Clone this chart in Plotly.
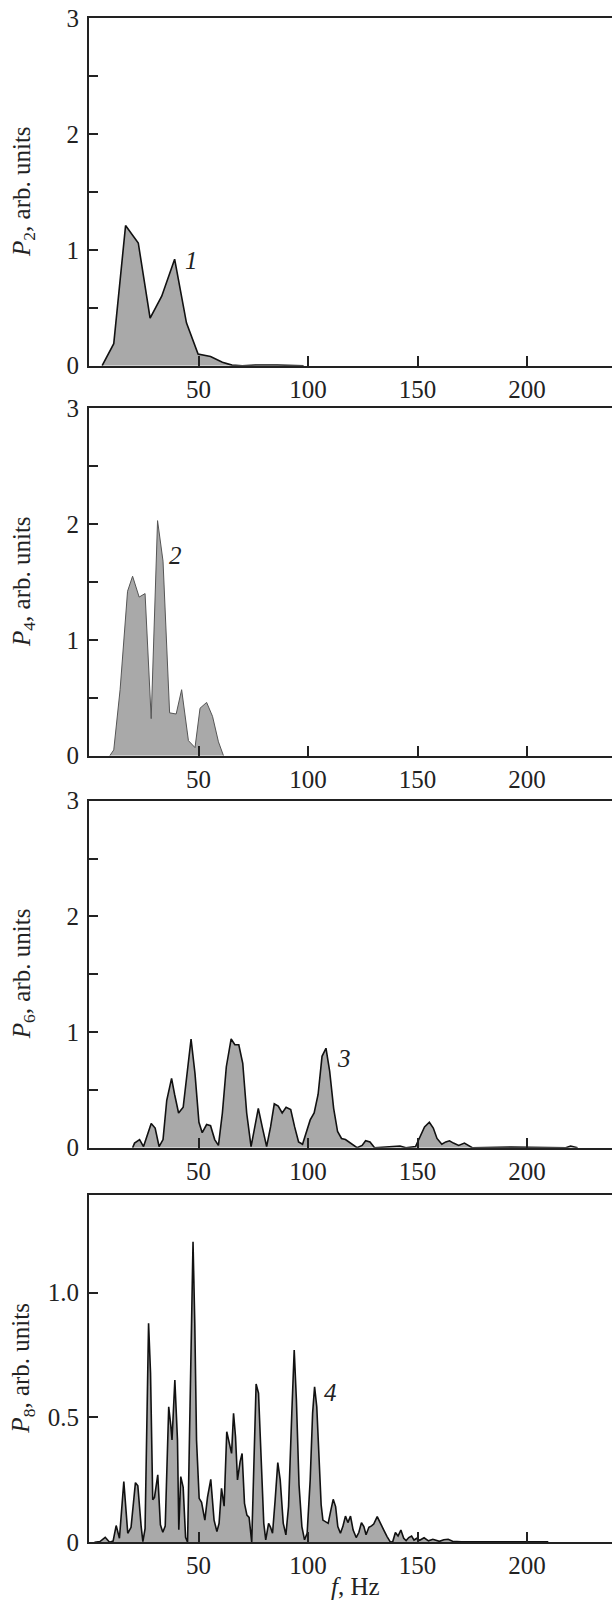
import plotly.graph_objects as go

# ---------------- data ----------------
f1 = [6.0, 11.3, 16.7, 22.5, 27.9, 33.2, 39.1, 44.5, 49.8, 55.5, 60.9, 65.3, 70.0, 76.0, 86.0, 92.0, 98.0]
p1 = [0, 0.19, 1.21, 1.06, 0.41, 0.60, 0.92, 0.37, 0.10, 0.08, 0.03, 0.005, 0, 0.006, 0.006, 0, 0]

f2 = [9.5, 11.3, 14.2, 17.6, 19.9, 22.9, 25.6, 28.4, 31.3, 33.8, 36.8, 39.8, 42.3, 45.4, 48.4,
      50.7, 53.7, 56.4, 59.1, 61.4]
p2 = [0, 0.05, 0.57, 1.42, 1.55, 1.37, 1.40, 0.32, 2.03, 1.68, 0.37, 0.36, 0.57, 0.13, 0.07,
      0.41, 0.46, 0.34, 0.12, 0]

f3 = [19.9, 20.8, 23.1, 24.9, 28.4, 30.2, 32.0, 33.8, 35.5, 37.7, 39.1, 40.9, 43.0, 44.8, 46.6,
      48.4, 50.2, 51.7, 53.7, 55.5, 57.4, 59.1, 60.9, 62.7, 64.9, 66.6, 68.4, 70.2, 72.0, 74.0,
      75.6, 77.3, 79.1, 81.1, 82.9, 84.6, 86.4, 88.2, 90.0, 92.1, 93.9, 95.7, 97.5, 99.3, 101.0,
      102.8, 104.6, 106.4, 108.2, 109.9, 111.7, 113.5, 115.3, 117.1, 119.4, 122.4, 124.7, 126.3,
      128.3, 130.4, 142.0, 144.7, 149.1, 150.9, 153.2, 155.4, 157.2, 158.9, 161.1, 162.9, 164.6,
      166.4, 168.8, 171.4, 173.2, 175.0, 192.8, 217.7, 219.9, 223.1]
p3 = [0, 0.04, 0.07, 0.01, 0.21, 0.17, 0.01, 0.07, 0.41, 0.60, 0.46, 0.30, 0.35, 0.67, 0.94,
      0.64, 0.22, 0.13, 0.20, 0.19, 0.07, 0.02, 0.30, 0.70, 0.94, 0.89, 0.89, 0.73, 0.30, 0.01,
      0.18, 0.34, 0.18, 0.01, 0.18, 0.38, 0.36, 0.30, 0.35, 0.33, 0.18, 0.05, 0.03, 0.14, 0.24,
      0.30, 0.46, 0.79, 0.86, 0.66, 0.34, 0.14, 0.08, 0.07, 0.04, 0, 0.02, 0.06,
      0.05, 0, 0.015, 0, 0.01, 0.08, 0.18, 0.22, 0.17, 0.08, 0.03, 0.05, 0.06,
      0.04, 0.02, 0.04, 0.02, 0, 0.005, 0, 0.015, 0]

f4 = [2.5, 5.0, 7.4, 9.4, 11.0, 12.4, 13.9, 15.9, 17.7, 19.2, 21.2, 22.3, 23.8, 24.6, 25.6,
      27.2, 28.1, 29.1, 29.9, 31.4, 32.6, 33.7, 34.8, 36.0, 36.4, 37.4, 37.9, 39.2, 40.4, 41.0,
      41.9, 43.0, 44.1, 45.0, 46.0, 46.8, 47.5, 48.3, 49.1, 50.3, 51.4, 52.9, 54.1, 55.6, 57.1,
      58.4, 59.4, 60.5, 61.7, 62.9, 64.0, 65.1, 66.0, 66.9, 67.8, 69.0, 69.9, 71.0, 72.1, 73.1,
      74.3, 75.2, 76.3, 77.4, 78.6, 79.8, 80.7, 82.0, 82.9, 83.8, 85.0, 86.2, 87.3, 88.7, 89.9,
      91.1, 92.6, 93.7, 94.7, 95.9, 97.2, 98.4, 99.6, 101.0, 102.1, 103.0, 104.0, 105.1, 106.0,
      106.8, 108.3, 109.2, 110.3, 111.5, 112.6, 113.6, 114.8, 115.9, 117.1, 118.2, 119.4, 120.6,
      122.0, 123.2, 124.4, 125.5, 126.5, 127.8, 129.0, 130.0, 131.6, 133.1, 134.6, 136.1, 137.7,
      138.7, 139.9, 141.1, 142.4, 143.7, 144.8, 146.0, 147.3, 148.4, 149.7, 151.0, 153.0, 155.0,
      157.0, 160.0, 162.0, 164.0, 166.0, 170.0, 180.0, 190.0, 200.0, 209.7]
p4 = [0, 0.003, 0.02, 0, 0.005, 0.067, 0.016, 0.243, 0.036, 0.06, 0.239, 0.226, 0.065, 0.003, 0.055,
      0.877, 0.677, 0.17, 0.18, 0.27, 0.07, 0.04, 0.065, 0.50, 0.543, 0.463, 0.41, 0.65, 0.41, 0.05,
      0.263, 0.22, 0.02, 0, 0.543, 0.971, 1.204, 0.877, 0.41, 0.176, 0.16, 0.089, 0.18, 0.252, 0.089,
      0.043, 0.076, 0.216, 0.145, 0.443, 0.396, 0.356, 0.517, 0.423, 0.25, 0.323, 0.356, 0.156, 0.109, 0.10,
      0, 0.28, 0.634, 0.597, 0.343, 0.076, 0.01, 0.076, 0.06, 0.036, 0.17, 0.319, 0.25, 0.076, 0.03,
      0.143, 0.517, 0.77, 0.57, 0.23, 0.063, 0.01, 0.036, 0.25, 0.517, 0.623, 0.543, 0.356, 0.15,
      0.089, 0.082, 0.076, 0.123, 0.172, 0.143, 0.063, 0.036, 0.063, 0.105, 0.079, 0.105, 0.049,
      0.019, 0.039, 0.079, 0.063, 0.03, 0.06, 0.066, 0.073, 0.103, 0.073, 0.049, 0.023, 0,
      0.003, 0.039, 0.025, 0.049, 0.016, 0.007, 0.019, 0.025, 0.009, 0.016, 0.008, 0.018, 0.006,
      0.012, 0.004, 0.01, 0.012, 0.004, 0.002, 0.002, 0.002, 0.002, 0.002]

x_ticks = [50, 100, 150, 200]
y_ticks_main = [0, 1, 2, 3]
y_minor_main = [0.5, 1.5, 2.5]
y_ticks_4 = [0, 0.5, 1.0]
y_text_4 = ["0", "0.5", "1.0"]
y_titles = ["<i>P</i><sub>2</sub>, arb. units", "<i>P</i><sub>4</sub>, arb. units",
            "<i>P</i><sub>6</sub>, arb. units", "<i>P</i><sub>8</sub>, arb. units"]
curve_labels = ["1", "2", "3", "4"]
label_pos = [(46.6, 0.91), (39.5, 1.73), (116.5, 0.77), (110.3, 0.60)]

# ---------------- layout geometry ----------------
W, H = 612, 1601
L = 89
panels_px = [(18.3, 365.7), (408.3, 755.7), (800.7, 1147.7), (1195.0, 1542.3)]
FONT = "Liberation Serif"
INK = "#222222"
FILL = "#a9a9a9"

series = [(f1, p1), (f2, p2), (f3, p3), (f4, p4)]
line_styles = [dict(color="#111111", width=1.6), dict(color="#555555", width=1.0),
               dict(color="#111111", width=1.6), dict(color="#111111", width=1.6)]

fig = go.Figure()
layout = dict(template="none", width=W, height=H, margin=dict(l=L, r=0, t=0, b=0, pad=0),
              autosize=False, paper_bgcolor="white", plot_bgcolor="white", showlegend=False,
              font=dict(family=FONT, size=25, color=INK))
annotations = []
for i, ((fx, py), (top, bot)) in enumerate(zip(series, panels_px)):
    n = i + 1
    xa = "x" if n == 1 else f"x{n}"
    ya = "y" if n == 1 else f"y{n}"
    fig.add_trace(go.Scatter(x=fx, y=py, mode="lines", fill="tozeroy", fillcolor=FILL,
                             line=line_styles[i], xaxis=xa, yaxis=ya, hoverinfo="skip"))
    dom = [1 - bot / H, 1 - top / H]
    yax = dict(domain=dom, anchor=xa, tickmode="array",
               ticks="inside", ticklen=9, tickwidth=1.5, tickcolor=INK, showline=True, linewidth=2,
               linecolor=INK, showgrid=False, zeroline=False, automargin=False,
               tickfont=dict(family=FONT, size=25, color=INK), ticklabelstandoff=3)
    if n < 4:
        yax.update(range=[0, 3], tickvals=y_ticks_main,
                   ticktext=[str(v) for v in y_ticks_main],
                   minor=dict(tickmode="array", tickvals=y_minor_main, ticks="inside",
                              ticklen=9, tickwidth=1.5, tickcolor=INK, showgrid=False))
    else:
        yax.update(range=[0, 1.391], tickvals=y_ticks_4, ticktext=y_text_4)
    layout["yaxis" if n == 1 else f"yaxis{n}"] = yax
    layout["xaxis" if n == 1 else f"xaxis{n}"] = dict(
        domain=[0, 1], anchor=ya, range=[0, 238.8], tickmode="array", tickvals=x_ticks,
        ticks="inside", ticklen=10, tickwidth=1.5, tickcolor=INK, showline=True, linewidth=2,
        linecolor=INK, mirror=True, showgrid=False, zeroline=False, automargin=False,
        tickfont=dict(family=FONT, size=25, color=INK), ticklabelstandoff=0)
    annotations.append(dict(text=y_titles[i], xref="paper", yref="paper",
                            x=(23 - L) / (W - L), y=(dom[0] + dom[1]) / 2, textangle=-90,
                            xanchor="center", yanchor="middle", showarrow=False,
                            font=dict(family=FONT, size=25, color=INK)))
    lx, ly = label_pos[i]
    annotations.append(dict(text=f"<i>{curve_labels[i]}</i>", xref=xa, yref=ya, x=lx, y=ly,
                            xanchor="center", yanchor="middle", showarrow=False,
                            font=dict(family=FONT, size=25, color=INK)))

annotations.append(dict(text="<i>f</i>, Hz", xref="paper", yref="paper",
                        x=(355 - L) / (W - L), y=1 - 1586 / H, xanchor="center",
                        yanchor="middle", showarrow=False,
                        font=dict(family=FONT, size=25, color=INK)))
layout["annotations"] = annotations
fig.update_layout(**layout)
fig.write_html("out.html", config={"displayModeBar": False},
               post_script="document.body.style.margin='0';document.body.style.overflow='hidden';")
